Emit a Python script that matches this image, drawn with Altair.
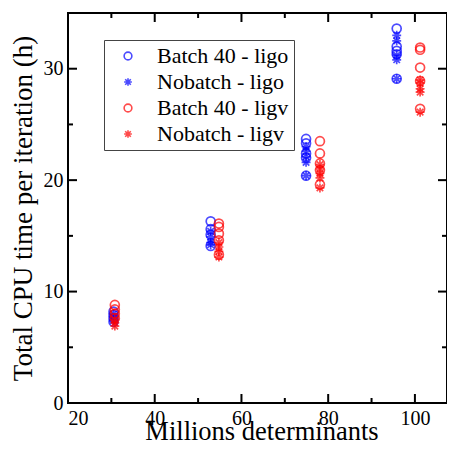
import altair as alt
import pandas as pd

series_names = ["Batch 40 - ligo", "Nobatch - ligo", "Batch 40 - ligv", "Nobatch - ligv"]
series_colors = ["#0000ff", "#0000ff", "#ff0000", "#ff0000"]
STAR = "M-1,0L1,0M0,-1L0,1M-0.72,-0.72L0.72,0.72M-0.72,0.72L0.72,-0.72"
series_shapes = ["circle", STAR, "circle", STAR]

# x positions (millions of determinants) of each cluster
ligo_x = [30.5, 52.9, 74.9, 95.8]
ligv_x = [30.8, 54.8, 78.1, 101.2]

# CPU time per iteration (h) for each cluster
batch_ligo = [[8.2, 7.9, 7.6, 7.3], [16.3, 15.6, 15.1, 14.1],
              [23.7, 23.3, 22.4, 22.0, 20.4], [33.6, 32.0, 31.6, 31.3, 29.1]]
nobatch_ligo = [[8.0, 7.7, 7.4], [15.4, 14.9, 14.4, 14.2],
                [23.0, 22.6, 22.1, 21.6, 20.4], [33.0, 32.5, 31.2, 30.8, 29.1]]
batch_ligv = [[8.8, 8.4, 8.0, 7.6], [16.1, 15.8, 15.2, 14.6, 13.3],
              [23.5, 22.4, 21.5, 20.9, 19.6], [31.9, 31.7, 30.1, 28.9, 26.4]]
nobatch_ligv = [[7.5, 7.2, 6.9], [14.4, 14.0, 13.6, 13.1],
                [21.4, 21.0, 20.6, 20.2, 19.3], [29.0, 28.7, 28.2, 27.9, 26.1]]

x_major = [20, 40, 60, 80, 100]
x_minor = [30, 50, 70, 90]
y_major = [0, 10, 20, 30]
y_minor = [5, 15, 25]

rows = []
for name, xs, groups in [
    (series_names[0], ligo_x, batch_ligo),
    (series_names[1], ligo_x, nobatch_ligo),
    (series_names[2], ligv_x, batch_ligv),
    (series_names[3], ligv_x, nobatch_ligv),
]:
    for xv, ys in zip(xs, groups):
        for yv in ys:
            rows.append({"series": name, "x": xv, "y": yv})
df = pd.DataFrame(rows)

W, H = 379, 390
FONT = "Liberation Serif"
MAJOR_SIZE, MINOR_SIZE = 81, 25   # tick symbol sizes: length = sqrt(size)
xscale = alt.Scale(domain=[20, 107.4], nice=False, zero=False)
yscale = alt.Scale(domain=[0, 35], nice=False, zero=False)

x_axis = alt.Axis(
    values=x_major, ticks=False, domain=False, grid=False, orient="bottom",
    labelFont=FONT, labelFontSize=20, labelColor="black", labelPadding=5,
    titleFont=FONT, titleFontSize=26.5, titleFontWeight="normal", titleColor="black",
    titleX=W / 2 + 4, titleY=36, titleBaseline="alphabetic", titleAlign="center")
y_axis = alt.Axis(
    values=y_major, ticks=False, domain=False, grid=False, orient="left",
    labelFont=FONT, labelFontSize=20, labelColor="black", labelPadding=5,
    titleFont=FONT, titleFontSize=27, titleFontWeight="normal", titleColor="black",
    titleX=-45, titleY=H / 2, titleAngle=270, titleBaseline="middle", titleAlign="center")

legend = alt.Legend(
    title=None, orient="none", legendX=36, legendY=27,
    strokeColor="#444444", fillColor="white", padding=5,
    symbolOffset=8, labelOffset=18, labelFont=FONT, labelFontSize=22,
    labelColor="black", rowPadding=4, symbolSize=60, symbolStrokeWidth=1.6,
)

points = alt.Chart(df).mark_point(filled=False, size=80, strokeWidth=1.7).encode(
    x=alt.X("x:Q", scale=xscale, axis=x_axis, title="Millions determinants"),
    y=alt.Y("y:Q", scale=yscale, axis=y_axis, title="Total CPU time per iteration (h)"),
    color=alt.Color("series:N", scale=alt.Scale(domain=series_names, range=series_colors), legend=legend),
    shape=alt.Shape("series:N", scale=alt.Scale(domain=series_names, range=series_shapes), legend=legend),
)

UP, DOWN, RIGHT, LEFT = "M0,0L0,-2", "M0,0L0,2", "M0,0L2,0", "M0,0L-2,0"


def tick_mark(values, size, path, channel, pos):
    d = pd.DataFrame({"v": values})
    base = alt.Chart(d).mark_point(shape=path, size=size, filled=False,
                                   color="black", strokeWidth=2, opacity=1)
    if channel == "x":
        return base.encode(x=alt.X("v:Q", scale=xscale, axis=None), y=alt.value(pos))
    return base.encode(y=alt.Y("v:Q", scale=yscale, axis=None), x=alt.value(pos))


tick_layers = [
    tick_mark(x_major, MAJOR_SIZE, UP, "x", H),
    tick_mark(x_minor, MINOR_SIZE, UP, "x", H),
    tick_mark(x_major, MAJOR_SIZE, DOWN, "x", 0),
    tick_mark(x_minor, MINOR_SIZE, DOWN, "x", 0),
    tick_mark(y_major, MAJOR_SIZE, RIGHT, "y", 0),
    tick_mark(y_minor, MINOR_SIZE, RIGHT, "y", 0),
    tick_mark(y_major, MAJOR_SIZE, LEFT, "y", W),
    tick_mark(y_minor, MINOR_SIZE, LEFT, "y", W),
]

chart = alt.layer(points, *tick_layers).resolve_axis(
    x="independent", y="independent"
).properties(
    width=W, height=H,
    padding={"left": 60, "top": 5, "right": 0, "bottom": 39},
    autosize=alt.AutoSizeParams(type="none"),
).configure(font=FONT).configure_view(stroke="black", strokeWidth=2).configure_axis(
    labelFont=FONT, titleFont=FONT
).configure_legend(labelFont=FONT)

chart.save("out.html", embed_options={"renderer": "svg", "actions": False})
